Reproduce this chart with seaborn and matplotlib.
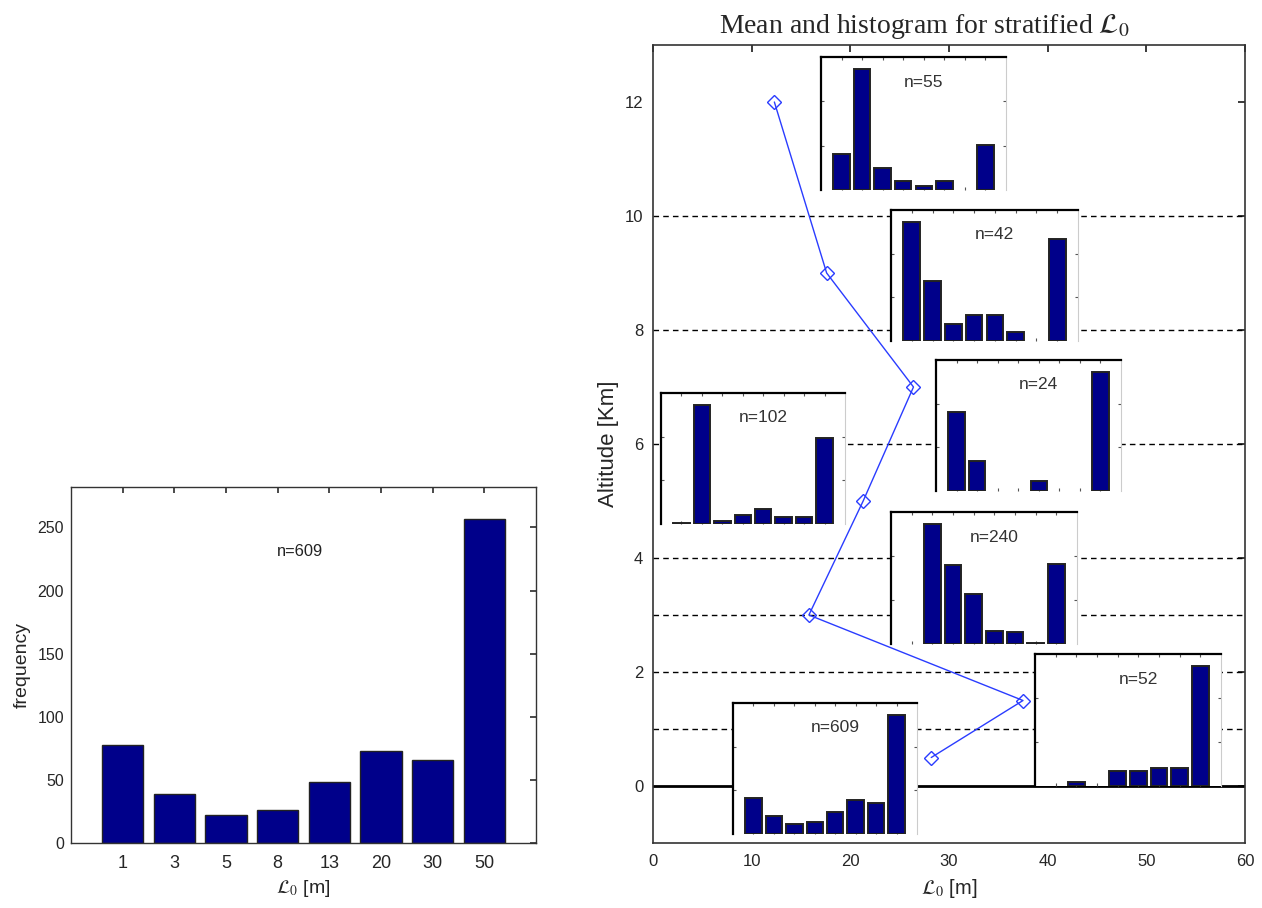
import numpy as np
import pandas as pd
import matplotlib
matplotlib.use('Agg')
import matplotlib.pyplot as plt
import seaborn as sns

sns.set_theme(style='white')
plt.rcParams['font.family'] = ['Liberation Sans', 'DejaVu Sans']
plt.rcParams['mathtext.fontset'] = 'stix'

# L0 bins [m]
bins = ['1', '3', '5', '8', '13', '20', '30', '50']
# histogram of all samples (n=609)
counts_all = [78, 39, 22, 26, 48, 73, 66, 257]

# mean L0 for each altitude stratum
mean_L0 = [28.2, 37.5, 15.8, 21.3, 26.4, 17.6, 12.3]
altitude = [0.5, 1.5, 3, 5, 7, 9, 12]
layer_edges = [1, 2, 3, 4, 6, 8, 10]

# histograms per stratum
counts_55 = [8, 27, 5, 2, 1, 2, 0, 10]
counts_42 = [14, 7, 2, 3, 3, 1, 0, 12]
counts_24 = [8, 3, 0, 0, 1, 0, 0, 12]
counts_102 = [0.3, 49, 1.4, 3.7, 6, 2.8, 2.8, 35.5]
counts_240 = [0, 81, 53, 34, 9, 8, 1, 54]
counts_52 = [0, 1, 0, 4, 4, 5, 5, 33]

navy = '#00008a'
W, H = 1262, 908


def draw_hist(ax, counts, lw=1):
    df = pd.DataFrame({'L0': bins, 'count': counts})
    sns.barplot(data=df, x='L0', y='count', order=bins, color=navy,
                saturation=1, width=0.8, edgecolor='#222222', linewidth=lw, ax=ax)
    # empty bins: no outline
    for p in ax.patches:
        if p.get_height() == 0:
            p.set_linewidth(0)
    ax.set_xlim(-1, 8)


fig = plt.figure(figsize=(W / 100, H / 100), dpi=100)

# ---- left: overall histogram
ax1 = fig.add_axes([71 / W, 1 - 843 / H, (536 - 71) / W, (843 - 487) / H])
draw_hist(ax1, counts_all)
ax1.set_ylim(0, 282)
ax1.set_yticks(range(0, 251, 50))
ax1.tick_params(direction='in', top=True, right=True, length=4, color='#333333')
ax1.tick_params(axis='x', labelsize=13, pad=9)
ax1.tick_params(axis='y', labelsize=11.5, pad=5)
ax1.set_xlabel(r'$\mathcal{L}_0$ [m]', fontsize=14, labelpad=4)
ax1.set_ylabel('frequency', fontsize=14, labelpad=5)
ax1.text(3.43, 231, 'n=609', fontsize=11.8, ha='center', va='center', color='#222222')
for s in ax1.spines.values():
    s.set_color('#333333')
    s.set_linewidth(1)

# ---- right: mean profile with stratified histograms
ax2 = fig.add_axes([653 / W, 1 - 843 / H, (1245 - 653) / W, (843 - 45) / H])
for e in layer_edges:
    ax2.axhline(e, color='black', lw=1, ls=(0, (4, 3)), zorder=1)
ax2.axhline(0, color='black', lw=2, zorder=1)
sns.lineplot(x=mean_L0, y=altitude, sort=False, estimator=None, color='#2a3cff',
             lw=1, marker='D', markersize=7, markerfacecolor='none',
             markeredgecolor='#2a3cff', markeredgewidth=1, ax=ax2, zorder=5)
ax2.set_xlim(0, 60)
ax2.set_ylim(-1, 13)
ax2.set_xticks(range(0, 61, 10))
ax2.set_yticks(range(0, 13, 2))
ax2.tick_params(direction='in', top=True, right=True, length=5, color='#222222', labelsize=12)
ax2.tick_params(axis='x', pad=8)
ax2.tick_params(axis='y', pad=7)
ax2.set_xlabel(r'$\mathcal{L}_0$ [m]', fontsize=14.5, labelpad=6)
ax2.set_ylabel('Altitude [Km]', fontsize=16, labelpad=4)
ax2.set_title(r'Mean and histogram for stratified $\mathcal{L}_0$', fontsize=20,
              family='Liberation Serif', x=(924 - 653) / (1245 - 653), pad=9)
for s in ax2.spines.values():
    s.set_color('#333333')
    s.set_linewidth(1.2)

insets = [
    (counts_55, 'n=55', (821, 57, 1006, 190)),
    (counts_42, 'n=42', (891, 210, 1078, 341)),
    (counts_24, 'n=24', (936, 360, 1121, 491)),
    (counts_102, 'n=102', (661, 393, 845, 524)),
    (counts_240, 'n=240', (891, 512, 1077, 644)),
    (counts_52, 'n=52', (1035, 654, 1221, 786)),
    (counts_all, 'n=609', (733, 703, 917, 834)),
]
for counts, label, (l, t, r, b) in insets:
    ax = fig.add_axes([l / W, 1 - b / H, (r - l) / W, (b - t) / H], facecolor='white')
    draw_hist(ax, counts, lw=1.4)
    top = max(counts) * 1.1
    ax.set_ylim(0, top)
    ax.set_xticks(range(8))
    ax.set_yticks(np.linspace(0, top, 4)[1:-1])
    ax.tick_params(direction='in', length=2.5, width=0.8, color='#555555',
                   top=True, right=True, bottom=True, left=True,
                   labelleft=False, labelbottom=False)
    ax.set_xlabel('')
    ax.set_ylabel('')
    ax.spines['top'].set_color('black')
    ax.spines['left'].set_color('black')
    ax.spines['top'].set_linewidth(1.6)
    ax.spines['left'].set_linewidth(1.6)
    ax.spines['right'].set_color('#cccccc')
    ax.spines['right'].set_linewidth(0.8)
    ax.spines['bottom'].set_visible(False)
    ax.text(4.0, top * 0.81, label, fontsize=12.5, ha='center',
            va='center', color='#333333')

fig.savefig('out.png', dpi=100)
